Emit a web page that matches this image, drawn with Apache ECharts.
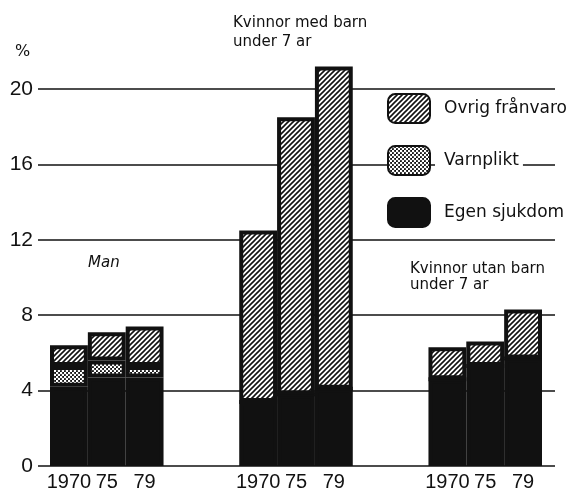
<!DOCTYPE html>
<html><head><meta charset="utf-8">
<script src="https://cdn.jsdelivr.net/npm/echarts@6/dist/echarts.min.js"></script>
<style>html,body{margin:0;padding:0;background:#fff}#c{width:578px;height:493px}</style>
</head><body><div id="c"></div>
<script>
// ---- data ----
const groupNames = ['Man', 'Kvinnor med barn under 7 ar', 'Kvinnor utan barn under 7 ar'];
const yearLabels = ['1970', '75', '79'];
const egenSjukdom   = [[4.2, 4.7, 4.7], [3.4, 3.8, 4.1], [4.6, 5.3, 5.7]];
const varnplikt     = [[1.1, 0.9, 0.6], [0, 0, 0], [0, 0, 0]];
const ovrigFranvaro = [[1.1, 1.5, 2.1], [9.1, 14.7, 17.1], [1.7, 1.3, 2.6]];
const yTicks = [0, 4, 8, 12, 16, 20];
const seriesNames = ['Egen sjukdom', 'Varnplikt', 'Ovrig frånvaro'];

// ---- build category slots (2 empty slots between groups) ----
const categories = [];
function flat(arr) {
  const out = [];
  arr.forEach((g, gi) => {
    if (gi > 0) { out.push(null, null); }
    g.forEach(v => out.push(v));
  });
  return out;
}
groupNames.forEach((g, gi) => {
  if (gi > 0) { categories.push('gap' + gi + 'a', 'gap' + gi + 'b'); }
  yearLabels.forEach(y => categories.push(g + '|' + y));
});

// ---- patterns ----
function hatch() {
  const s = 5, c = document.createElement('canvas'); c.width = c.height = s;
  const g = c.getContext('2d');
  g.fillStyle = '#fff'; g.fillRect(0, 0, s, s);
  g.strokeStyle = '#111'; g.lineWidth = 1.6; g.beginPath();
  g.moveTo(-1, s + 1); g.lineTo(s + 1, -1);
  g.moveTo(-1, 1); g.lineTo(1, -1);
  g.moveTo(s - 1, s + 1); g.lineTo(s + 1, s - 1);
  g.stroke();
  return c;
}
function dots() {
  const s = 4, c = document.createElement('canvas'); c.width = c.height = s;
  const g = c.getContext('2d');
  g.fillStyle = '#111'; g.fillRect(0, 0, s, s);
  g.fillStyle = '#fff';
  g.beginPath(); g.arc(1, 1, 1.3, 0, Math.PI * 2); g.fill();
  g.beginPath(); g.arc(3, 3, 1.3, 0, Math.PI * 2); g.fill();
  return c;
}
const fills = ['#111', { image: dots(), repeat: 'repeat' }, { image: hatch(), repeat: 'repeat' }];
const values = [egenSjukdom, varnplikt, ovrigFranvaro];

const chart = echarts.init(document.getElementById('c'), null, { renderer: 'canvas' });
const txt = { fontFamily: 'DejaVu Sans', fontWeight: 'normal', color: '#111' };
chart.setOption({
  animation: false,
  backgroundColor: '#fff',
  title: [
    { text: '%', left: 15, top: 44, padding: 0, textStyle: Object.assign({}, txt, { fontSize: 16 }) },
    { text: 'Kvinnor med barn\nunder 7 ar', left: 233, top: 13.5, padding: 0,
      textStyle: Object.assign({}, txt, { fontSize: 15, lineHeight: 19 }) },
    { text: 'Man', left: 88, top: 254, padding: 0,
      textStyle: Object.assign({}, txt, { fontSize: 15, lineHeight: 18, fontStyle: 'italic' }) },
    { text: 'Kvinnor utan barn\nunder 7 ar', left: 410, top: 261, padding: 0,
      textStyle: Object.assign({}, txt, { fontSize: 15, lineHeight: 16 }) }
  ],
  legend: {
    orient: 'vertical', left: 387, top: 93, padding: 0,
    itemWidth: 42, itemHeight: 29, itemGap: 21,
    data: [seriesNames[2], seriesNames[1], seriesNames[0]],
    textStyle: Object.assign({}, txt, { fontSize: 17, backgroundColor: '#fff', padding: [2, 4, 2, 9] })
  },
  grid: [
    { left: 38, right: 23, top: 89, bottom: 27 },
    { left: 50, right: 36, top: 466 - 22 * 18.85, bottom: 27 }
  ],
  xAxis: [
    { gridIndex: 0, type: 'value', min: 0, max: 1, show: false },
    { gridIndex: 1, type: 'category', data: categories,
      axisLine: { show: false }, axisTick: { show: false },
      axisLabel: { interval: 0, margin: 6, fontFamily: 'Liberation Sans', fontSize: 20, color: '#111',
        formatter: v => (v.indexOf('|') >= 0 ? v.split('|')[1] : '') } }
  ],
  yAxis: [
    { gridIndex: 0, type: 'value', min: yTicks[0], max: yTicks[yTicks.length - 1], interval: yTicks[1] - yTicks[0],
      axisLine: { show: false }, axisTick: { show: false },
      axisLabel: { margin: 5, fontFamily: 'Liberation Sans', fontSize: 21, color: '#111' },
      splitLine: { show: true, lineStyle: { color: '#111', width: 1.5 } } },
    { gridIndex: 1, type: 'value', min: 0, max: 22, show: false, splitLine: { show: false } }
  ],
  series: seriesNames.map((n, i) => ({
    name: n, type: 'bar', stack: 'a', xAxisIndex: 1, yAxisIndex: 1,
    barCategoryGap: '0%', barGap: '0%',
    data: flat(values[i]),
    itemStyle: { color: fills[i], borderColor: '#111', borderWidth: 4 },
    emphasis: { disabled: true }
  }))
});
</script></body></html>
